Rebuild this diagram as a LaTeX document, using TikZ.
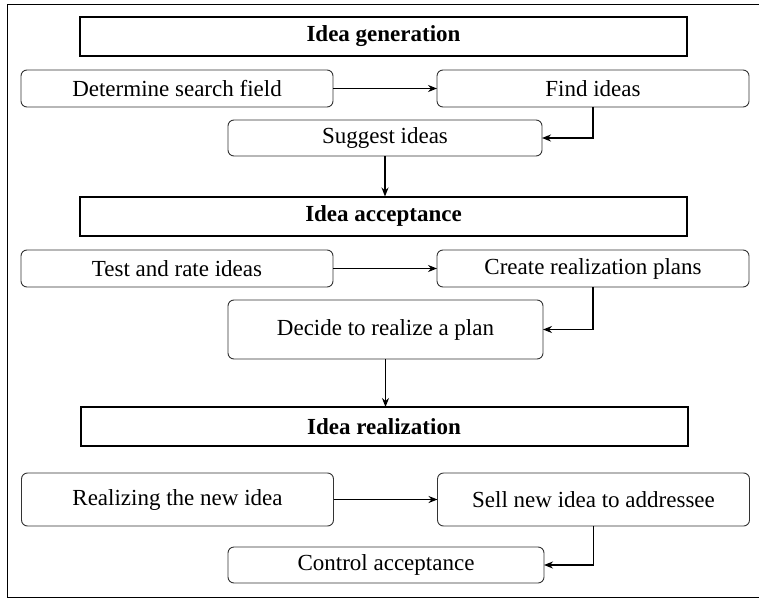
\documentclass[tikz,border=0pt]{standalone}
\usepackage{fontspec}
\setmainfont{Liberation Serif}
\usepackage{tikz}
\usetikzlibrary{arrows.meta,positioning}

\begin{document}
\begin{tikzpicture}[x=1pt, y=-1pt, node distance=104pt, font=\fontsize{23}{27}\selectfont]
\tikzset{
  head/.style={rectangle, draw=black, line width=2pt, minimum width=607pt, minimum height=39pt, inner sep=0pt, outer sep=0pt, font=\fontsize{23}{27}\selectfont\bfseries},
  box/.style={rectangle, rounded corners=6pt, draw=black!80, line width=0.9pt, minimum width=312pt, minimum height=37pt, inner sep=0pt, outer sep=0pt, align=center},
  arr/.style={->, >={Stealth[length=9pt, width=7pt]}, line width=1.4pt},
}
\useasboundingbox (0,0) rectangle (759,599);
\draw[line width=1pt] (759,4.5) -- (7,4.5) -- (7,597) -- (759,597);
% idea generation
\node[head] (gen) at (383.5,36.5) {Idea generation};
\node[box] (det) at (177,88.5) {Determine search field};
\node[box, right=of det] (find) {Find ideas};
\node[box, minimum width=314pt, minimum height=36pt] (sug) at (385,138) {Suggest ideas};
% idea acceptance
\node[head] (acc) at (383.5,216) {Idea acceptance};
\node[box] (test) at (177,268.5) {Test and rate ideas};
\node[box, right=of test] (plans) {Create realization plans};
\node[box, minimum width=315pt, minimum height=59pt] (dec) at (385.5,329.5) {Decide to realize a plan};
% idea realization
\node[head] (real) at (384,426.5) {Idea realization};
\node[box, minimum height=53pt] (newi) at (177.5,499.5) {Realizing the new idea};
\node[box, minimum height=53pt, right=of newi] (sell) {Sell new idea to addressee};
\node[box, minimum width=316pt, minimum height=36pt] (ctrl) at (386,565) {Control acceptance};
\draw[arr] (det) -- (find);
\draw[arr] (find.south) |- (sug.east);
\draw[arr] (sug.south) -- (sug.south |- acc.north);
\draw[arr] (test) -- (plans);
\draw[arr] (plans.south) |- (dec.east);
\draw[arr] (dec.south) -- (dec.south |- real.north);
\draw[arr] (newi) -- (sell);
\draw[arr] (sell.south) |- (ctrl.east);
\end{tikzpicture}
\end{document}
